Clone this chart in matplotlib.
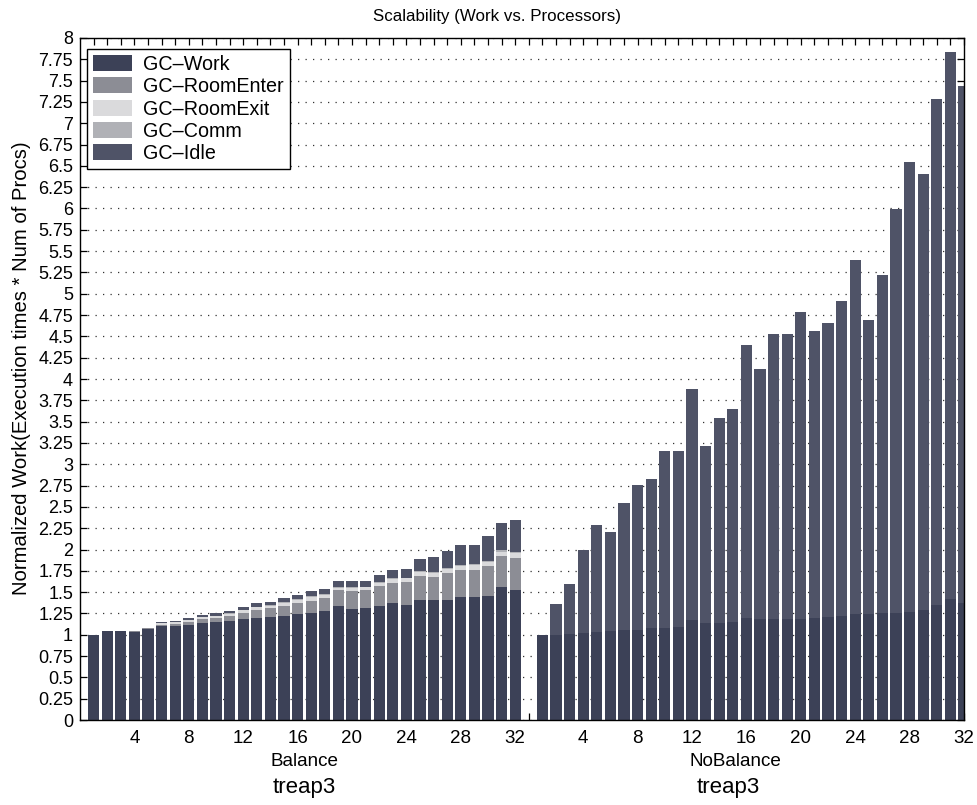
import matplotlib
matplotlib.use("Agg")
import matplotlib.pyplot as plt
from matplotlib.patches import Patch
from matplotlib.ticker import FixedLocator
import numpy as np

plt.rcParams['font.family'] = ['Liberation Sans', 'DejaVu Sans']

# ---- data ----
procs = list(range(1, 33))
tick_labels = ["4", "8", "12", "16", "20", "24", "28", "32"]
groups = ["Balance", "NoBalance"]
benchmark = "treap3"
series = ["GC\u2013Work", "GC\u2013RoomEnter", "GC\u2013RoomExit", "GC\u2013Comm", "GC\u2013Idle"]

bal_work = [1.00, 1.04, 1.04, 1.03, 1.065, 1.10, 1.10, 1.12, 1.14, 1.15, 1.16, 1.19,
            1.20, 1.21, 1.22, 1.24, 1.26, 1.28, 1.34, 1.30, 1.31, 1.34, 1.37, 1.35,
            1.405, 1.405, 1.405, 1.44, 1.445, 1.455, 1.555, 1.52]
bal_enter = [0, 0, 0, .01, .01, .02, .03, .035, .045, .05, .06, .07,
             .09, .10, .12, .13, .14, .15, .18, .21, .21, .23, .24, .27,
             .28, .27, .32, .32, .32, .35, .37, .38]
bal_exit = [0, 0, 0, .005, .005, .015, .015, .015, .02, .02, .025, .025,
            .03, .03, .035, .04, .04, .04, .03, .035, .035, .04, .045, .04,
            .055, .05, .045, .05, .05, .05, .05, .055]
bal_comm = [0, 0, 0, 0, 0, .005, .005, .005, .005, .005, .005, .005,
            .005, .005, .005, .01, .01, .01, .01, .01, .01, .01, .01, .01,
            .01, .01, .01, .01, .01, .01, .015, .015]
bal_idle = [0, 0, 0, 0, .005, .01, .015, .02, .02, .025, .03, .04,
            .045, .045, .05, .05, .06, .06, .065, .07, .07, .08, .09, .105,
            .14, .175, .20, .23, .23, .29, .32, .375]

nob_work = [1.00, 1.00, 1.01, 1.02, 1.03, 1.04, 1.05, 1.06, 1.08, 1.08, 1.09, 1.17,
            1.14, 1.14, 1.15, 1.20, 1.19, 1.19, 1.19, 1.19, 1.20, 1.21, 1.22, 1.24,
            1.24, 1.25, 1.26, 1.27, 1.29, 1.35, 1.42, 1.37]
nob_total = [1.00, 1.36, 1.59, 2.00, 2.29, 2.21, 2.54, 2.76, 2.83, 3.15, 3.16, 3.88,
             3.21, 3.54, 3.65, 4.40, 4.12, 4.53, 4.53, 4.79, 4.56, 4.66, 4.91, 5.40,
             4.69, 5.22, 5.99, 6.54, 6.41, 7.29, 7.84, 7.44]

colors = ["#3c4157", "#8c8d95", "#dadadc", "#b0b1b6", "#4f5367"]

# ---- figure ----
fig = plt.figure(figsize=(9.78, 8.05), dpi=100)
ax = fig.add_axes([80 / 978, 85 / 805, 884 / 978, 682 / 805])

w = 0.82
xl = np.array(procs, dtype=float)
xr = xl + 33

bottom = np.zeros(32)
for vals, c in zip([bal_work, bal_enter, bal_exit, bal_comm, bal_idle], colors):
    ax.bar(xl, vals, width=w, bottom=bottom, color=c, edgecolor='none', zorder=2)
    bottom = bottom + np.array(vals)

nw = np.array(nob_work)
nt = np.array(nob_total)
ax.bar(xr, nw, width=w, color=colors[0], edgecolor='none', zorder=2)
ax.bar(xr, nt - nw, width=w, bottom=nw, color=colors[4], edgecolor='none', zorder=2)

ax.set_xlim(0, 65)
ax.set_ylim(0, 8)

yt = np.arange(0, 8.001, 0.25)
ax.set_yticks(yt)
ax.set_yticklabels(["%g" % v for v in yt], fontsize=13)

major_pos = [4, 8, 12, 16, 20, 24, 28, 32] + [37, 41, 45, 49, 53, 57, 61, 65]
ax.set_xticks(major_pos)
ax.set_xticklabels(tick_labels + tick_labels, fontsize=13.5)
ax.xaxis.set_minor_locator(FixedLocator(list(range(1, 65))))

ax.tick_params(axis='both', which='both', direction='in', top=True, right=True,
               length=5, width=0.9, color='black')
ax.tick_params(axis='x', which='major', pad=7)
ax.tick_params(axis='y', which='major', pad=5)
ax.set_axisbelow(True)

ax.yaxis.grid(True, linestyle=(0, (1, 5)), color='#333333', linewidth=0.9)
ax.xaxis.grid(False)
for s in ax.spines.values():
    s.set_linewidth(1.0)
    s.set_zorder(3)

fig.text(497 / 978, 1 - 16 / 805, "Scalability (Work vs. Processors)", fontsize=12.2,
         ha='center', va='center')
fig.text(22 / 978, 1 - 368 / 805, "Normalized Work(Execution times * Num of Procs)",
         fontsize=14.6, rotation=90, ha='center', va='center')

# group labels
ax.text(16.5, -0.49, groups[0], ha='center', va='center', fontsize=13.6)
ax.text(16.5, -0.79, benchmark, ha='center', va='center', fontsize=16)
ax.text(48.2, -0.49, groups[1], ha='center', va='center', fontsize=13.6)
ax.text(47.7, -0.79, benchmark, ha='center', va='center', fontsize=16)

handles = [Patch(facecolor=c, edgecolor='none') for c in colors]
leg = ax.legend(handles, series, loc='upper left', bbox_to_anchor=(0.008, 0.984),
                borderaxespad=0, fontsize=14.2, frameon=True, fancybox=False,
                handlelength=2.0, handleheight=0.86, labelspacing=0.17,
                handletextpad=0.55, borderpad=0.3)
leg.get_frame().set_edgecolor('black')
leg.get_frame().set_linewidth(1.0)
leg.get_frame().set_alpha(1.0)
leg.set_zorder(5)

fig.savefig("out.png", dpi=100)
